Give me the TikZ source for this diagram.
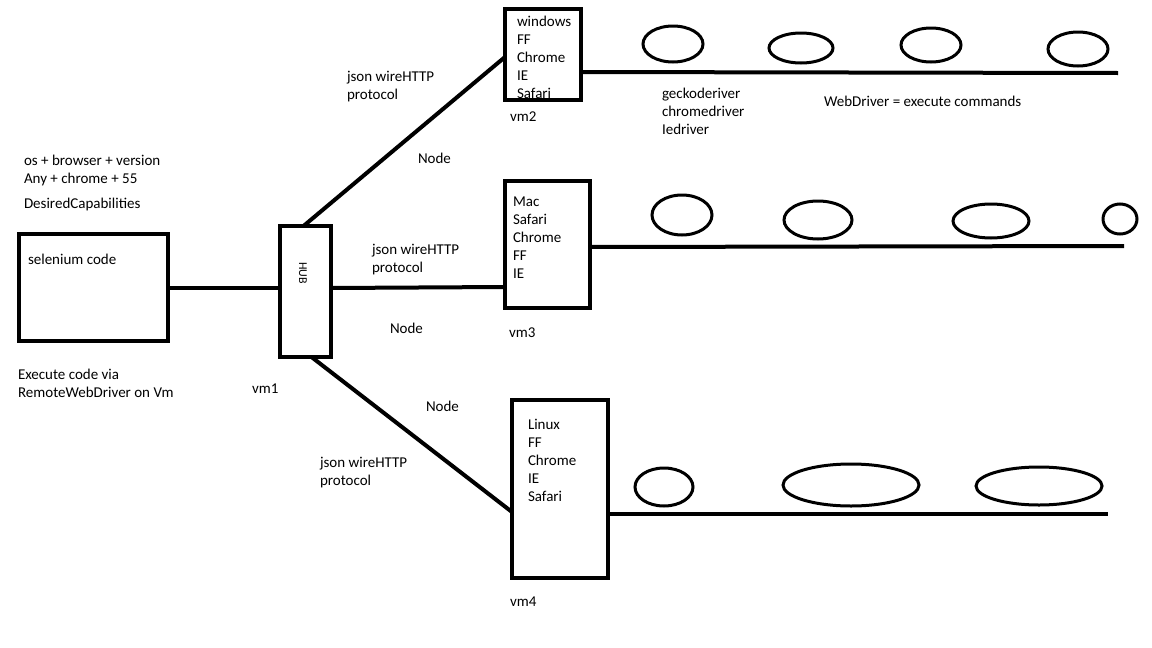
\documentclass[tikz,border=0pt]{standalone}
\usepackage{fontspec}
\setmainfont{Carlito}
\begin{document}
\begin{tikzpicture}[x=1pt,y=-1pt,
  box/.style={draw, line width=4.5pt, inner sep=0pt, outer sep=0pt},
  txt/.style={anchor=base west, inner sep=0pt, outer sep=0pt, align=left, font=\fontsize{15}{17.8}\selectfont},
  wire/.style={line width=4pt},
  disk/.style={line width=3pt}]
\useasboundingbox[fill=white] (0,0) rectangle (1152,648);
% top-left texts (base anchor = last line)
\node[txt] (caps) at (24,183) {os + browser + version\\Any + chrome + 55};
\node[txt] (dc) at (24,208) {DesiredCapabilities};
% selenium code box
\node[box, minimum width=149pt, minimum height=107pt] (sel) at (93.5,287.5) {};
\node[txt] (selt) at (28,264) {selenium code};
\node[txt] (exec) at (18,397) {Execute code via\\RemoteWebDriver on Vm};
% HUB
\node[box, minimum width=51pt, minimum height=131pt] (hub) at (305.5,291.5) {};
\node[inner sep=0pt, rotate=-90, font=\fontsize{12}{14}\selectfont] (hubt) at (303,273) {HUB};
\node[txt] (vm1) at (252,393) {vm1};
% vm2
\node[txt] (l2) at (517,98) {windows\\FF\\Chrome\\IE\\Safari};
\node[box, minimum width=76pt, minimum height=91pt] (vm2) at (543,54.5) {};
\node[txt] (vm2t) at (510,121) {vm2};
% vm3
\node[txt] (l3) at (513,278) {Mac\\Safari\\Chrome\\FF\\IE};
\node[box, minimum width=85pt, minimum height=127pt] (vm3) at (547.5,244.5) {};
\node[txt] (vm3t) at (509,337) {vm3};
% vm4
\node[txt] (l4) at (528,501) {Linux\\FF\\Chrome\\IE\\Safari};
\node[box, minimum width=96pt, minimum height=178pt] (vm4) at (560,489) {};
\node[txt] (vm4t) at (510,606) {vm4};
% labels
\node[txt] (j1) at (347,99) {json wireHTTP\\protocol};
\node[txt] (n1) at (418,163) {Node};
\node[txt] (j2) at (372,272) {json wireHTTP\\protocol};
\node[txt] (n2) at (390,333) {Node};
\node[txt] (n3) at (426,411) {Node};
\node[txt] (j3) at (320,485) {json wireHTTP\\protocol};
\node[txt] (drv) at (662,134) {geckoderiver\\chromedriver\\Iedriver};
\node[txt] (wd) at (824,106) {WebDriver = execute commands};
% end coordinates of the driver lines
\coordinate (e2) at (1118,73);
\coordinate (e3) at (1124,246);
\coordinate (e4) at (1108,514);
% connectors
\draw[wire] (sel.east |- 0,288) -- (hub.west |- 0,288);
\draw[wire] ([xshift=-2pt]hub.north) -- ([yshift=-2.5pt]vm2.west);
\draw[wire] (hub.east |- 0,288) -- (vm3.west |- 0,287);
\draw[wire] ([xshift=6pt]hub.south) -- ([yshift=-23pt]vm4.west);
\draw[wire] ([yshift=-17.5pt]vm2.east) -- (e2);
\draw[wire] ([yshift=-2.5pt]vm3.east) -- (e3);
\draw[wire] ([yshift=-25pt]vm4.east) -- (e4);
% disks
\draw[disk] (673,44) ellipse [x radius=30pt, y radius=18pt];
\draw[disk] (801,48) ellipse [x radius=32pt, y radius=15pt];
\draw[disk] (931,45) ellipse [x radius=30pt, y radius=17pt];
\draw[disk] (1078,49) ellipse [x radius=30pt, y radius=17pt];
\draw[disk] (682,215) ellipse [x radius=30pt, y radius=20pt];
\draw[disk] (818,220) ellipse [x radius=34pt, y radius=19pt];
\draw[disk] (991,221) ellipse [x radius=38pt, y radius=17pt];
\draw[disk] (1120,219) ellipse [x radius=17pt, y radius=15pt];
\draw[disk] (664,487) ellipse [x radius=29pt, y radius=19pt];
\draw[disk] (851,485) ellipse [x radius=68pt, y radius=21pt];
\draw[disk] (1039,486) ellipse [x radius=63pt, y radius=19pt];
\end{tikzpicture}
\end{document}
